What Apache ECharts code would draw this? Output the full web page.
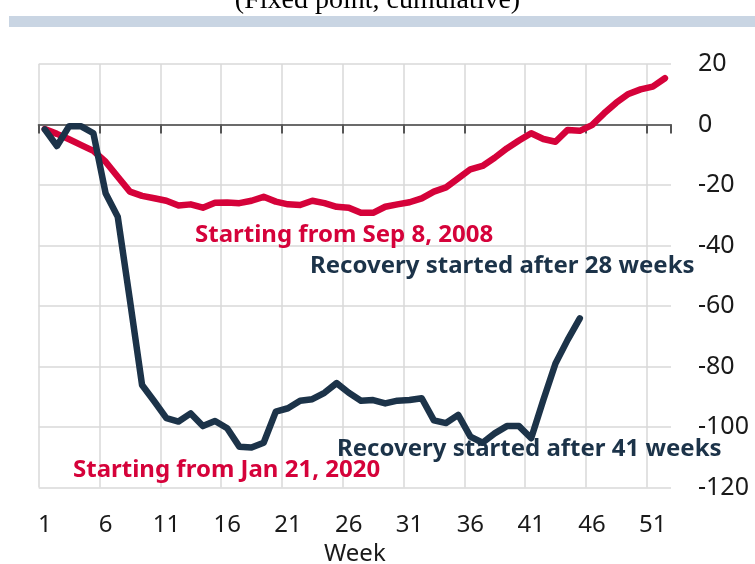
<!DOCTYPE html>
<html>
<head>
<meta charset="utf-8">
<script src="https://cdn.jsdelivr.net/npm/echarts@6/dist/echarts.min.js"></script>
<style>
html, body { margin: 0; padding: 0; background: #fff; }
#chart { width: 755px; height: 564px; }
</style>
</head>
<body>
<div id="chart"></div>
<script>
// week numbers on the x axis
var weeks = ['1', '2', '3', '4', '5', '6', '7', '8', '9', '10', '11', '12', '13',
  '14', '15', '16', '17', '18', '19', '20', '21', '22', '23', '24', '25', '26',
  '27', '28', '29', '30', '31', '32', '33', '34', '35', '36', '37', '38', '39',
  '40', '41', '42', '43', '44', '45', '46', '47', '48', '49', '50', '51', '52']

// cumulative change, starting from Sep 8, 2008
var from2008 = [-1.5, -3.1, -4.9, -6.8, -8.7, -12.3, -17.3, -22.2, -23.6, -24.4,
  -25.2, -26.8, -26.4, -27.5, -25.9, -25.8, -26, -25.2, -23.9, -25.5,
  -26.4, -26.6, -25.2, -26, -27.2, -27.5, -29.2, -29.2, -27.2, -26.4,
  -25.7, -24.4, -22.2, -20.8, -17.8, -14.8, -13.7, -11, -7.9, -5.3,
  -2.9, -4.8, -5.7, -1.8, -2.1, -0.2, 3.7, 7.2, 10.1, 11.6, 12.5, 15.3]

// cumulative change, starting from Jan 21, 2020
var from2020 = [-1.6, -7.1, -0.6, -0.6, -2.9, -22.7, -30.5, -58, -86.1, -91.5,
  -97.1, -98.2, -95.5, -99.7, -98, -100.4, -106.5, -106.8, -105.2, -94.9,
  -93.8, -91.3, -90.8, -88.7, -85.5, -88.7, -91.3, -91.1, -92.2, -91.3,
  -91.1, -90.5, -97.8, -98.7, -96, -103.2, -105.2, -102.1, -99.7, -99.7,
  -103.7, -91.1, -79, -71.2, -64.1]

var yTicks = { min: -120, max: 20, step: 20 }

var RED = '#d5023a'
var NAVY = '#1c3349'
var GRID = '#d9d9d9'
var labelFont = 'Noto Sans'
var noteFont = 'bold 24px "Noto Sans"'

// vertical grid: every 5 weeks, no line on the right edge
var vGridColors = []
for (var i = 0; i < 11; i++) vGridColors.push(GRID)
vGridColors.push('rgba(0,0,0,0)')

var chart = echarts.init(document.getElementById('chart'))
chart.setOption({
  backgroundColor: '#ffffff',
  animation: false,
  title: {
    text: '(Fixed point, cumulative)',
    left: 'center',
    top: -18,
    textStyle: {
      fontFamily: 'Liberation Serif',
      fontWeight: 'normal',
      fontSize: 28,
      color: '#000'
    }
  },
  grid: {
    left: 38.7,
    right: 84,
    top: 64,
    bottom: 76.5,
    containLabel: false,
    outerBoundsMode: 'none'
  },
  xAxis: [{
    type: 'category',
    data: weeks,
    position: 'bottom',
    boundaryGap: true,
    axisLine: { show: false, onZero: false },
    axisTick: { show: false },
    axisLabel: {
      interval: 4,
      margin: 26,
      fontFamily: labelFont,
      fontSize: 24,
      color: '#1a1a1a'
    },
    splitLine: {
      show: true,
      interval: 4,
      lineStyle: { color: vGridColors, width: 1.5 }
    },
    name: 'Week',
    nameLocation: 'middle',
    nameGap: 55,
    nameTextStyle: {
      fontFamily: labelFont,
      fontSize: 24,
      color: '#1a1a1a'
    }
  }, {
    type: 'category',
    data: weeks,
    position: 'bottom',
    boundaryGap: true,
    axisLine: {
      show: true,
      onZero: true,
      lineStyle: { color: '#6b6b6b', width: 2 }
    },
    axisTick: {
      show: true,
      interval: 4,
      length: 9,
      lineStyle: { color: '#555', width: 2 }
    },
    axisLabel: { show: false },
    splitLine: { show: false }
  }],
  yAxis: {
    type: 'value',
    position: 'right',
    min: yTicks.min,
    max: yTicks.max,
    interval: yTicks.step,
    axisLine: { show: false },
    axisTick: { show: false },
    axisLabel: {
      margin: 27,
      align: 'left',
      fontFamily: labelFont,
      fontSize: 25,
      color: '#1a1a1a'
    },
    splitLine: {
      lineStyle: { color: GRID, width: 1.5 }
    }
  },
  series: [{
    name: 'Starting from Sep 8, 2008',
    type: 'line',
    xAxisIndex: 0,
    data: from2008,
    showSymbol: false,
    symbol: 'none',
    lineStyle: { color: RED, width: 6.5, cap: 'round', join: 'round' },
    z: 3
  }, {
    name: 'Starting from Jan 21, 2020',
    type: 'line',
    xAxisIndex: 0,
    data: from2020,
    showSymbol: false,
    symbol: 'none',
    lineStyle: { color: NAVY, width: 6.5, cap: 'round', join: 'round' },
    z: 4
  }],
  graphic: [{
    type: 'rect',
    shape: { x: 9, y: 16, width: 746, height: 11 },
    style: { fill: '#c9d5e3' },
    silent: true
  }, {
    type: 'text',
    left: 195,
    top: 223,
    style: { text: 'Starting from Sep 8, 2008', fill: RED, font: noteFont },
    z: 10
  }, {
    type: 'text',
    left: 310,
    top: 254,
    style: { text: 'Recovery started after 28 weeks', fill: NAVY, font: noteFont },
    z: 10
  }, {
    type: 'text',
    left: 337,
    top: 437,
    style: { text: 'Recovery started after 41 weeks', fill: NAVY, font: noteFont },
    z: 10
  }, {
    type: 'text',
    left: 73,
    top: 458,
    style: { text: 'Starting from Jan 21, 2020', fill: RED, font: noteFont },
    z: 10
  }]
})
</script>
</body>
</html>
